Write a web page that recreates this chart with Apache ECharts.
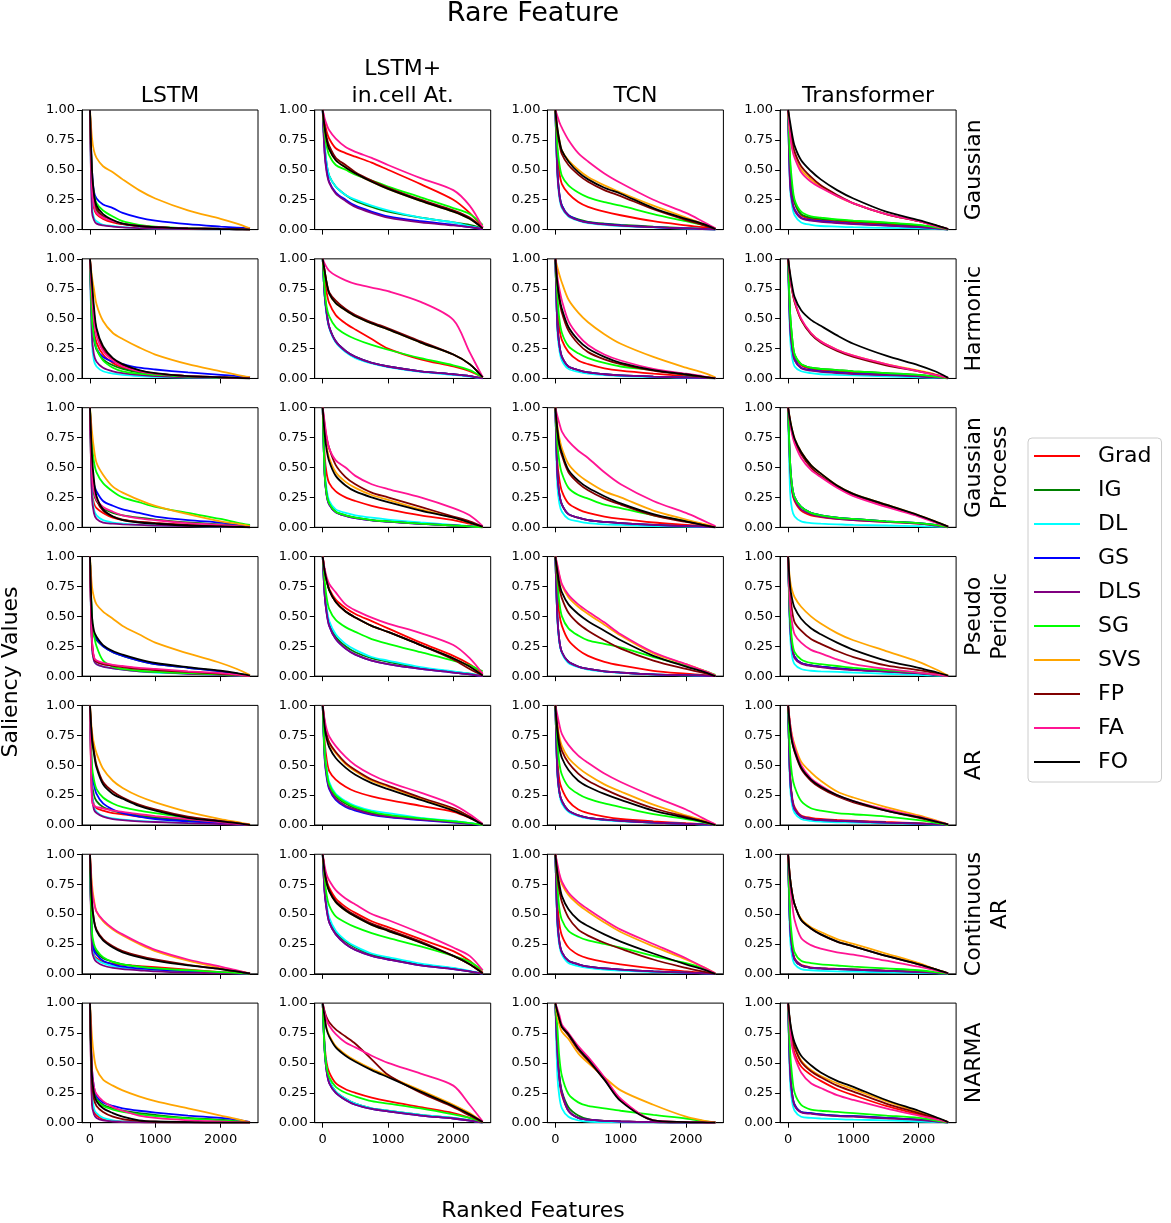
<!DOCTYPE html>
<html>
<head>
<meta charset="utf-8">
<script src="https://cdn.jsdelivr.net/npm/echarts@6/dist/echarts.min.js"></script>
<style>
html,body{margin:0;padding:0;background:#fff;}
#chart{width:1171px;height:1223px;}
</style>
</head>
<body>
<div id="chart"></div>
<script>
// ---------- data ----------
const featureRank = [0, 30, 60, 100, 200, 350, 500, 750, 1000, 1500, 2000, 2250, 2450];
const methods = ['Grad', 'IG', 'DL', 'GS', 'DLS', 'SG', 'SVS', 'FP', 'FA', 'FO'];
const modelTitles = ['LSTM', 'LSTM+\nin.cell At.', 'TCN', 'Transformer'];
const datasetTitles = ['Gaussian', 'Harmonic', 'Gaussian\nProcess', 'Pseudo\nPeriodic', 'AR', 'Continuous\nAR', 'NARMA'];
const xTickValues = [0, 1000, 2000];
const yTickValues = [0, 0.25, 0.5, 0.75, 1];

// each panel: rows in method order Grad, IG, DL, GS, DLS, SG, SVS, FP, FA, FO
const gaussian_LSTM = [
 [1,0.3,0.18,0.13,0.09,0.06,0.045,0.03,0.02,0.01,0.005,0.003,0],
 [1,0.35,0.22,0.16,0.11,0.07,0.05,0.03,0.02,0.01,0.005,0.003,0],
 [1,0.2,0.1,0.07,0.04,0.03,0.02,0.012,0.008,0.004,0.002,0.001,0],
 [1,0.5,0.32,0.26,0.21,0.18,0.14,0.1,0.075,0.045,0.025,0.017,0.01],
 [1,0.15,0.08,0.05,0.035,0.025,0.018,0.012,0.008,0.004,0.002,0.001,0],
 [1,0.45,0.3,0.22,0.16,0.11,0.07,0.04,0.025,0.012,0.006,0.003,0],
 [1,0.77,0.66,0.6,0.53,0.48,0.42,0.33,0.26,0.16,0.09,0.05,0.01],
 [1,0.45,0.28,0.18,0.11,0.07,0.045,0.03,0.02,0.01,0.005,0.003,0],
 [1,0.35,0.2,0.14,0.1,0.07,0.05,0.03,0.02,0.01,0.005,0.003,0],
 [1,0.5,0.3,0.2,0.13,0.08,0.05,0.03,0.02,0.01,0.005,0.003,0]
];
const gaussian_LSTMAtt = [
 [1,0.9,0.82,0.76,0.68,0.64,0.61,0.56,0.5,0.38,0.25,0.14,0.02],
 [1,0.7,0.55,0.45,0.36,0.29,0.24,0.19,0.15,0.1,0.06,0.04,0.01],
 [1,0.7,0.55,0.45,0.36,0.29,0.25,0.2,0.16,0.1,0.06,0.03,0.01],
 [1,0.65,0.5,0.4,0.31,0.25,0.2,0.15,0.11,0.07,0.04,0.02,0.005],
 [1,0.63,0.48,0.39,0.3,0.24,0.19,0.14,0.1,0.06,0.035,0.02,0.005],
 [1,0.8,0.7,0.62,0.54,0.5,0.46,0.41,0.36,0.27,0.18,0.13,0.04],
 [1,0.85,0.75,0.67,0.58,0.52,0.47,0.4,0.34,0.24,0.15,0.09,0.01],
 [1,0.86,0.77,0.7,0.6,0.54,0.48,0.41,0.35,0.25,0.16,0.1,0.01],
 [1,0.93,0.88,0.83,0.76,0.69,0.65,0.6,0.54,0.43,0.33,0.2,0.02],
 [1,0.85,0.75,0.67,0.58,0.52,0.47,0.4,0.34,0.24,0.15,0.09,0.01]
];
const gaussian_TCN = [
 [1,0.65,0.48,0.38,0.3,0.23,0.19,0.15,0.12,0.07,0.035,0.02,0.005],
 [1,0.5,0.3,0.2,0.12,0.085,0.065,0.05,0.04,0.025,0.012,0.006,0],
 [1,0.45,0.27,0.18,0.11,0.075,0.055,0.04,0.03,0.018,0.009,0.005,0],
 [1,0.5,0.3,0.2,0.12,0.08,0.06,0.045,0.035,0.02,0.01,0.005,0],
 [1,0.48,0.29,0.19,0.115,0.078,0.058,0.043,0.033,0.02,0.01,0.005,0],
 [1,0.7,0.55,0.45,0.37,0.31,0.27,0.23,0.2,0.13,0.07,0.04,0.01],
 [1,0.85,0.75,0.66,0.58,0.5,0.44,0.37,0.31,0.2,0.1,0.05,0.01],
 [1,0.82,0.72,0.63,0.54,0.46,0.4,0.33,0.28,0.17,0.08,0.04,0.005],
 [1,0.95,0.9,0.85,0.75,0.64,0.57,0.47,0.39,0.25,0.14,0.07,0.01],
 [1,0.85,0.75,0.66,0.57,0.48,0.42,0.35,0.3,0.18,0.09,0.05,0.005]
];
const gaussian_Transformer = [
 [1,0.5,0.32,0.22,0.12,0.09,0.08,0.07,0.06,0.045,0.03,0.015,0],
 [1,0.55,0.35,0.23,0.13,0.1,0.09,0.08,0.07,0.055,0.035,0.02,0],
 [1,0.35,0.2,0.12,0.06,0.04,0.03,0.025,0.02,0.015,0.01,0.005,0],
 [1,0.4,0.25,0.17,0.1,0.08,0.07,0.06,0.05,0.035,0.02,0.01,0],
 [1,0.38,0.24,0.16,0.095,0.075,0.065,0.055,0.047,0.033,0.02,0.01,0],
 [1,0.6,0.4,0.25,0.15,0.11,0.1,0.085,0.075,0.06,0.04,0.02,0],
 [1,0.8,0.7,0.62,0.5,0.42,0.36,0.28,0.22,0.13,0.07,0.035,0.005],
 [1,0.85,0.75,0.65,0.53,0.44,0.37,0.29,0.22,0.13,0.07,0.035,0.005],
 [1,0.8,0.68,0.6,0.48,0.4,0.35,0.28,0.22,0.13,0.07,0.03,0.005],
 [1,0.9,0.8,0.7,0.58,0.49,0.42,0.33,0.26,0.15,0.08,0.04,0.005]
];

const harmonic_LSTM = [
 [1,0.6,0.4,0.3,0.2,0.13,0.09,0.055,0.035,0.02,0.01,0.005,0],
 [1,0.5,0.33,0.24,0.16,0.11,0.08,0.05,0.035,0.02,0.01,0.005,0],
 [1,0.3,0.15,0.1,0.06,0.04,0.03,0.02,0.013,0.007,0.004,0.002,0],
 [1,0.5,0.35,0.25,0.18,0.14,0.12,0.09,0.075,0.05,0.03,0.02,0.01],
 [1,0.35,0.2,0.14,0.09,0.06,0.045,0.03,0.02,0.01,0.005,0.002,0],
 [1,0.5,0.35,0.25,0.15,0.09,0.06,0.04,0.03,0.015,0.008,0.004,0],
 [1,0.85,0.75,0.62,0.48,0.38,0.33,0.26,0.2,0.12,0.06,0.03,0.01],
 [1,0.75,0.55,0.4,0.25,0.16,0.11,0.065,0.04,0.02,0.01,0.005,0],
 [1,0.7,0.5,0.36,0.23,0.15,0.1,0.06,0.04,0.02,0.01,0.005,0],
 [1,0.8,0.6,0.42,0.27,0.17,0.12,0.07,0.045,0.02,0.01,0.005,0]
];
const harmonic_LSTMAtt = [
 [1,0.85,0.72,0.63,0.53,0.46,0.41,0.33,0.25,0.16,0.1,0.06,0.01],
 [1,0.7,0.55,0.43,0.31,0.23,0.18,0.13,0.1,0.06,0.035,0.02,0],
 [1,0.68,0.53,0.42,0.3,0.22,0.17,0.125,0.095,0.055,0.03,0.015,0],
 [1,0.7,0.55,0.43,0.31,0.23,0.18,0.13,0.1,0.06,0.035,0.02,0],
 [1,0.7,0.55,0.43,0.31,0.23,0.18,0.13,0.1,0.06,0.035,0.02,0],
 [1,0.75,0.6,0.52,0.43,0.37,0.33,0.28,0.24,0.17,0.11,0.07,0.01],
 [1,0.9,0.8,0.71,0.63,0.57,0.52,0.46,0.41,0.3,0.2,0.12,0.01],
 [1,0.9,0.8,0.72,0.65,0.58,0.53,0.47,0.42,0.31,0.2,0.12,0.01],
 [1,0.96,0.93,0.9,0.86,0.82,0.79,0.76,0.73,0.64,0.49,0.22,0.01],
 [1,0.9,0.8,0.71,0.63,0.57,0.52,0.46,0.41,0.3,0.2,0.12,0.01]
];
const harmonic_TCN = [
 [1,0.6,0.42,0.32,0.22,0.15,0.12,0.085,0.065,0.04,0.02,0.01,0],
 [1,0.45,0.28,0.18,0.1,0.07,0.05,0.035,0.025,0.015,0.008,0.004,0],
 [1,0.4,0.24,0.15,0.08,0.055,0.04,0.028,0.02,0.012,0.006,0.003,0],
 [1,0.45,0.28,0.18,0.1,0.07,0.05,0.035,0.025,0.015,0.008,0.004,0],
 [1,0.45,0.28,0.18,0.1,0.07,0.05,0.035,0.025,0.015,0.008,0.004,0],
 [1,0.7,0.5,0.38,0.27,0.21,0.17,0.13,0.1,0.07,0.03,0.015,0],
 [1,0.93,0.87,0.8,0.66,0.55,0.47,0.37,0.29,0.18,0.09,0.05,0.01],
 [1,0.8,0.66,0.55,0.4,0.29,0.22,0.16,0.12,0.065,0.03,0.015,0],
 [1,0.85,0.75,0.65,0.48,0.36,0.28,0.2,0.15,0.08,0.04,0.02,0],
 [1,0.8,0.68,0.58,0.43,0.32,0.25,0.18,0.13,0.07,0.035,0.015,0]
];
const harmonic_Transformer = [
 [1,0.5,0.3,0.18,0.11,0.08,0.07,0.06,0.05,0.04,0.025,0.012,0],
 [1,0.55,0.35,0.2,0.12,0.09,0.08,0.07,0.06,0.045,0.03,0.015,0],
 [1,0.35,0.18,0.1,0.06,0.045,0.035,0.03,0.025,0.018,0.01,0.005,0],
 [1,0.45,0.27,0.16,0.09,0.07,0.06,0.05,0.04,0.03,0.02,0.01,0],
 [1,0.43,0.26,0.15,0.085,0.065,0.055,0.045,0.037,0.028,0.018,0.009,0],
 [1,0.55,0.35,0.2,0.12,0.09,0.08,0.07,0.06,0.045,0.03,0.015,0],
 [1,0.85,0.74,0.64,0.49,0.38,0.31,0.24,0.19,0.12,0.065,0.035,0.005],
 [1,0.85,0.74,0.64,0.49,0.37,0.3,0.23,0.18,0.11,0.06,0.03,0.005],
 [1,0.85,0.75,0.65,0.5,0.38,0.31,0.24,0.19,0.12,0.06,0.03,0.005],
 [1,0.88,0.78,0.68,0.57,0.49,0.44,0.36,0.29,0.19,0.11,0.06,0.005]
];

const gp_LSTM = [
 [1,0.3,0.2,0.16,0.12,0.08,0.06,0.045,0.035,0.02,0.01,0.005,0],
 [1,0.4,0.28,0.22,0.16,0.12,0.1,0.08,0.065,0.04,0.025,0.015,0.005],
 [1,0.3,0.15,0.1,0.06,0.04,0.03,0.02,0.015,0.01,0.005,0.003,0],
 [1,0.5,0.36,0.3,0.22,0.18,0.15,0.12,0.09,0.06,0.04,0.025,0.01],
 [1,0.25,0.12,0.07,0.04,0.03,0.025,0.02,0.015,0.01,0.005,0.003,0],
 [1,0.7,0.55,0.46,0.37,0.3,0.25,0.21,0.17,0.12,0.07,0.04,0.02],
 [1,0.8,0.66,0.54,0.44,0.34,0.29,0.23,0.18,0.11,0.05,0.03,0.01],
 [1,0.5,0.33,0.23,0.14,0.09,0.065,0.045,0.035,0.02,0.01,0.005,0],
 [1,0.45,0.3,0.23,0.17,0.13,0.1,0.075,0.06,0.035,0.02,0.01,0],
 [1,0.6,0.4,0.26,0.15,0.09,0.06,0.04,0.03,0.015,0.008,0.004,0]
];
const gp_LSTMAtt = [
 [1,0.6,0.45,0.37,0.3,0.25,0.22,0.18,0.15,0.1,0.06,0.03,0.005],
 [1,0.45,0.28,0.2,0.13,0.1,0.08,0.06,0.05,0.03,0.015,0.008,0],
 [1,0.5,0.32,0.22,0.15,0.12,0.1,0.08,0.065,0.04,0.02,0.01,0],
 [1,0.44,0.27,0.19,0.125,0.095,0.077,0.058,0.048,0.029,0.015,0.008,0],
 [1,0.44,0.27,0.19,0.125,0.095,0.077,0.058,0.048,0.029,0.015,0.008,0],
 [1,0.45,0.28,0.2,0.13,0.1,0.08,0.06,0.05,0.03,0.015,0.008,0],
 [1,0.8,0.68,0.58,0.46,0.38,0.33,0.27,0.23,0.15,0.08,0.04,0.005],
 [1,0.85,0.75,0.66,0.52,0.42,0.36,0.29,0.25,0.17,0.09,0.05,0.005],
 [1,0.88,0.76,0.66,0.56,0.5,0.43,0.36,0.32,0.25,0.16,0.1,0.01],
 [1,0.78,0.65,0.55,0.43,0.35,0.3,0.25,0.21,0.14,0.08,0.04,0.005]
];
const gp_TCN = [
 [1,0.55,0.4,0.3,0.2,0.15,0.12,0.09,0.07,0.04,0.02,0.01,0],
 [1,0.45,0.28,0.19,0.11,0.08,0.06,0.045,0.035,0.02,0.01,0.005,0],
 [1,0.35,0.2,0.13,0.07,0.05,0.035,0.025,0.02,0.01,0.005,0.002,0],
 [1,0.45,0.28,0.19,0.11,0.08,0.06,0.045,0.035,0.02,0.01,0.005,0],
 [1,0.45,0.28,0.19,0.11,0.08,0.06,0.045,0.035,0.02,0.01,0.005,0],
 [1,0.7,0.55,0.45,0.33,0.27,0.24,0.19,0.16,0.1,0.05,0.025,0],
 [1,0.85,0.75,0.66,0.53,0.44,0.38,0.3,0.25,0.14,0.065,0.03,0.005],
 [1,0.8,0.68,0.6,0.46,0.37,0.31,0.24,0.19,0.1,0.045,0.02,0],
 [1,0.93,0.87,0.8,0.72,0.64,0.58,0.46,0.36,0.22,0.12,0.06,0.01],
 [1,0.82,0.7,0.62,0.48,0.39,0.33,0.26,0.2,0.11,0.05,0.02,0]
];
const gp_Transformer = [
 [1,0.5,0.3,0.22,0.14,0.1,0.085,0.07,0.06,0.045,0.03,0.015,0],
 [1,0.55,0.35,0.25,0.17,0.12,0.1,0.08,0.07,0.05,0.035,0.02,0],
 [1,0.3,0.15,0.09,0.05,0.035,0.03,0.025,0.02,0.015,0.01,0.005,0],
 [1,0.55,0.35,0.25,0.17,0.12,0.1,0.08,0.07,0.05,0.035,0.02,0],
 [1,0.5,0.32,0.23,0.15,0.11,0.09,0.07,0.06,0.045,0.03,0.015,0],
 [1,0.55,0.35,0.25,0.17,0.12,0.1,0.08,0.07,0.05,0.035,0.02,0],
 [1,0.9,0.82,0.74,0.63,0.52,0.45,0.35,0.28,0.19,0.1,0.05,0.005],
 [1,0.88,0.8,0.72,0.61,0.5,0.43,0.34,0.27,0.18,0.095,0.045,0.005],
 [1,0.88,0.78,0.7,0.58,0.48,0.42,0.33,0.26,0.17,0.09,0.04,0.005],
 [1,0.9,0.82,0.74,0.63,0.52,0.45,0.35,0.28,0.19,0.1,0.05,0.005]
];

const pseudo_LSTM = [
 [1,0.3,0.15,0.12,0.1,0.09,0.08,0.065,0.055,0.035,0.02,0.01,0],
 [1,0.45,0.34,0.3,0.25,0.2,0.17,0.13,0.1,0.07,0.04,0.02,0.005],
 [1,0.25,0.13,0.1,0.08,0.065,0.055,0.04,0.03,0.02,0.01,0.005,0],
 [1,0.45,0.35,0.31,0.25,0.2,0.17,0.13,0.1,0.07,0.04,0.02,0.005],
 [1,0.25,0.13,0.1,0.08,0.065,0.055,0.04,0.035,0.02,0.01,0.005,0],
 [1,0.5,0.35,0.25,0.13,0.08,0.06,0.045,0.035,0.025,0.015,0.008,0],
 [1,0.75,0.66,0.6,0.54,0.48,0.42,0.35,0.28,0.19,0.11,0.06,0.01],
 [1,0.3,0.15,0.12,0.1,0.085,0.075,0.06,0.05,0.035,0.02,0.01,0],
 [1,0.3,0.16,0.13,0.11,0.095,0.085,0.07,0.06,0.04,0.025,0.012,0],
 [1,0.5,0.38,0.33,0.26,0.21,0.18,0.14,0.11,0.075,0.045,0.025,0.005]
];
const pseudo_LSTMAtt = [
 [1,0.88,0.8,0.73,0.64,0.57,0.52,0.46,0.4,0.28,0.17,0.1,0.02],
 [1,0.7,0.55,0.44,0.33,0.25,0.2,0.15,0.12,0.07,0.035,0.02,0],
 [1,0.72,0.57,0.46,0.35,0.27,0.22,0.16,0.13,0.075,0.04,0.02,0],
 [1,0.68,0.53,0.42,0.31,0.23,0.18,0.13,0.1,0.06,0.03,0.015,0],
 [1,0.68,0.53,0.42,0.31,0.23,0.18,0.13,0.1,0.06,0.03,0.015,0],
 [1,0.8,0.66,0.56,0.47,0.41,0.37,0.31,0.27,0.2,0.13,0.09,0.04],
 [1,0.88,0.8,0.72,0.62,0.54,0.49,0.42,0.37,0.26,0.15,0.08,0.005],
 [1,0.88,0.8,0.72,0.62,0.54,0.49,0.42,0.37,0.26,0.14,0.06,0.005],
 [1,0.9,0.83,0.77,0.7,0.6,0.55,0.49,0.44,0.36,0.26,0.15,0.02],
 [1,0.88,0.8,0.72,0.62,0.54,0.49,0.42,0.37,0.26,0.15,0.08,0.005]
];
const pseudo_TCN = [
 [1,0.7,0.52,0.42,0.3,0.22,0.17,0.12,0.09,0.045,0.02,0.01,0],
 [1,0.5,0.3,0.2,0.12,0.08,0.06,0.04,0.03,0.015,0.008,0.004,0],
 [1,0.48,0.28,0.19,0.11,0.075,0.055,0.038,0.028,0.014,0.007,0.003,0],
 [1,0.5,0.3,0.2,0.12,0.08,0.06,0.04,0.03,0.015,0.008,0.004,0],
 [1,0.5,0.3,0.2,0.12,0.08,0.06,0.04,0.03,0.015,0.008,0.004,0],
 [1,0.8,0.62,0.5,0.4,0.34,0.3,0.27,0.24,0.16,0.09,0.05,0.01],
 [1,0.92,0.84,0.76,0.66,0.58,0.52,0.43,0.34,0.19,0.1,0.05,0.005],
 [1,0.85,0.74,0.65,0.53,0.44,0.38,0.3,0.23,0.13,0.06,0.03,0],
 [1,0.93,0.85,0.77,0.68,0.6,0.54,0.45,0.35,0.2,0.1,0.05,0.005],
 [1,0.88,0.78,0.7,0.6,0.52,0.46,0.38,0.3,0.17,0.08,0.04,0]
];
const pseudo_Transformer = [
 [1,0.45,0.25,0.16,0.11,0.09,0.08,0.065,0.055,0.04,0.025,0.012,0],
 [1,0.45,0.25,0.16,0.11,0.09,0.08,0.065,0.055,0.04,0.025,0.012,0],
 [1,0.35,0.17,0.1,0.06,0.045,0.04,0.035,0.03,0.02,0.01,0.005,0],
 [1,0.45,0.25,0.16,0.11,0.09,0.08,0.065,0.055,0.04,0.025,0.012,0],
 [1,0.43,0.24,0.15,0.105,0.085,0.075,0.06,0.05,0.037,0.023,0.011,0],
 [1,0.5,0.3,0.2,0.14,0.11,0.1,0.085,0.07,0.05,0.03,0.015,0],
 [1,0.8,0.72,0.66,0.58,0.5,0.44,0.36,0.3,0.21,0.12,0.06,0.005],
 [1,0.7,0.55,0.45,0.38,0.31,0.27,0.21,0.16,0.09,0.05,0.025,0],
 [1,0.6,0.45,0.35,0.28,0.22,0.19,0.14,0.1,0.06,0.03,0.015,0],
 [1,0.75,0.65,0.57,0.48,0.4,0.35,0.28,0.22,0.13,0.07,0.035,0.005]
];

const ar_LSTM = [
 [1,0.25,0.17,0.14,0.12,0.1,0.09,0.07,0.06,0.04,0.02,0.01,0],
 [1,0.35,0.25,0.2,0.15,0.12,0.1,0.08,0.06,0.04,0.02,0.01,0],
 [1,0.3,0.15,0.11,0.075,0.055,0.045,0.035,0.028,0.018,0.01,0.005,0],
 [1,0.45,0.34,0.26,0.18,0.13,0.1,0.07,0.05,0.03,0.015,0.008,0],
 [1,0.25,0.13,0.1,0.07,0.05,0.04,0.03,0.025,0.015,0.008,0.004,0],
 [1,0.5,0.38,0.3,0.23,0.18,0.15,0.12,0.1,0.06,0.03,0.015,0],
 [1,0.78,0.68,0.6,0.47,0.37,0.31,0.24,0.19,0.11,0.05,0.025,0.005],
 [1,0.73,0.62,0.5,0.36,0.28,0.23,0.17,0.13,0.07,0.035,0.015,0],
 [1,0.2,0.16,0.15,0.14,0.12,0.11,0.09,0.075,0.05,0.025,0.012,0],
 [1,0.72,0.6,0.48,0.34,0.26,0.22,0.16,0.12,0.06,0.03,0.015,0]
];
const ar_LSTMAtt = [
 [1,0.7,0.55,0.45,0.38,0.32,0.28,0.24,0.21,0.16,0.11,0.06,0.005],
 [1,0.6,0.45,0.33,0.24,0.18,0.14,0.1,0.08,0.05,0.03,0.015,0],
 [1,0.62,0.47,0.36,0.26,0.2,0.16,0.12,0.1,0.06,0.035,0.017,0],
 [1,0.55,0.4,0.3,0.21,0.15,0.12,0.085,0.065,0.04,0.02,0.01,0],
 [1,0.57,0.42,0.31,0.22,0.16,0.13,0.09,0.07,0.045,0.025,0.012,0],
 [1,0.6,0.45,0.34,0.25,0.19,0.15,0.11,0.085,0.055,0.03,0.015,0],
 [1,0.85,0.75,0.68,0.6,0.51,0.45,0.37,0.32,0.22,0.13,0.07,0.005],
 [1,0.86,0.76,0.69,0.61,0.52,0.46,0.38,0.33,0.23,0.14,0.07,0.005],
 [1,0.88,0.8,0.74,0.66,0.57,0.5,0.42,0.36,0.27,0.17,0.09,0.01],
 [1,0.82,0.72,0.65,0.56,0.48,0.42,0.35,0.3,0.21,0.12,0.06,0.005]
];
const ar_TCN = [
 [1,0.55,0.38,0.3,0.2,0.13,0.1,0.07,0.05,0.03,0.015,0.008,0],
 [1,0.45,0.28,0.2,0.12,0.08,0.06,0.045,0.035,0.02,0.01,0.005,0],
 [1,0.42,0.26,0.18,0.11,0.075,0.055,0.04,0.03,0.018,0.009,0.004,0],
 [1,0.45,0.28,0.2,0.12,0.08,0.06,0.045,0.035,0.02,0.01,0.005,0],
 [1,0.45,0.28,0.2,0.12,0.08,0.06,0.045,0.035,0.02,0.01,0.005,0],
 [1,0.7,0.52,0.42,0.32,0.26,0.22,0.18,0.15,0.09,0.05,0.025,0],
 [1,0.85,0.74,0.66,0.56,0.48,0.42,0.34,0.28,0.17,0.08,0.04,0.005],
 [1,0.82,0.7,0.62,0.52,0.43,0.37,0.3,0.24,0.14,0.07,0.03,0],
 [1,0.92,0.84,0.76,0.67,0.58,0.52,0.43,0.36,0.24,0.13,0.06,0.005],
 [1,0.78,0.65,0.56,0.46,0.37,0.32,0.26,0.21,0.12,0.06,0.03,0]
];
const ar_Transformer = [
 [1,0.42,0.24,0.15,0.08,0.06,0.05,0.042,0.036,0.025,0.015,0.008,0],
 [1,0.4,0.22,0.13,0.07,0.05,0.04,0.035,0.03,0.02,0.012,0.006,0],
 [1,0.33,0.17,0.1,0.05,0.035,0.028,0.023,0.02,0.014,0.008,0.004,0],
 [1,0.4,0.22,0.13,0.07,0.05,0.04,0.035,0.03,0.02,0.012,0.006,0],
 [1,0.4,0.22,0.13,0.07,0.05,0.04,0.035,0.03,0.02,0.012,0.006,0],
 [1,0.6,0.42,0.32,0.2,0.14,0.12,0.1,0.09,0.07,0.04,0.02,0],
 [1,0.85,0.75,0.67,0.53,0.44,0.37,0.28,0.23,0.15,0.08,0.04,0.005],
 [1,0.82,0.7,0.61,0.47,0.37,0.31,0.24,0.19,0.12,0.06,0.03,0.005],
 [1,0.85,0.74,0.65,0.5,0.39,0.33,0.25,0.2,0.13,0.07,0.035,0.005],
 [1,0.82,0.7,0.62,0.48,0.38,0.32,0.25,0.2,0.12,0.065,0.03,0.005]
];

const car_LSTM = [
 [1,0.25,0.16,0.13,0.1,0.085,0.075,0.065,0.055,0.035,0.015,0.008,0],
 [1,0.3,0.22,0.18,0.13,0.1,0.08,0.06,0.045,0.025,0.012,0.006,0],
 [1,0.25,0.15,0.12,0.09,0.065,0.05,0.035,0.025,0.015,0.008,0.004,0],
 [1,0.3,0.2,0.16,0.11,0.08,0.06,0.045,0.035,0.02,0.01,0.005,0],
 [1,0.2,0.13,0.1,0.07,0.05,0.04,0.03,0.02,0.01,0.005,0.002,0],
 [1,0.35,0.25,0.2,0.14,0.1,0.08,0.06,0.045,0.03,0.015,0.008,0],
 [1,0.75,0.62,0.52,0.44,0.37,0.32,0.25,0.19,0.11,0.05,0.025,0.003],
 [1,0.6,0.45,0.37,0.29,0.23,0.19,0.15,0.12,0.075,0.04,0.02,0.003],
 [1,0.7,0.6,0.52,0.45,0.38,0.33,0.26,0.2,0.12,0.06,0.03,0.003],
 [1,0.6,0.45,0.36,0.28,0.22,0.18,0.14,0.11,0.07,0.04,0.02,0.003]
];
const car_LSTMAtt = [
 [1,0.87,0.78,0.72,0.63,0.56,0.51,0.44,0.39,0.29,0.19,0.11,0.01],
 [1,0.7,0.56,0.45,0.35,0.27,0.22,0.16,0.13,0.08,0.045,0.02,0],
 [1,0.72,0.58,0.47,0.36,0.28,0.23,0.17,0.14,0.085,0.05,0.025,0],
 [1,0.68,0.54,0.43,0.33,0.25,0.2,0.15,0.12,0.07,0.04,0.02,0],
 [1,0.68,0.54,0.43,0.33,0.25,0.2,0.15,0.12,0.07,0.04,0.02,0],
 [1,0.8,0.66,0.57,0.48,0.43,0.39,0.34,0.3,0.23,0.15,0.1,0.03],
 [1,0.85,0.76,0.69,0.6,0.53,0.48,0.41,0.36,0.26,0.15,0.08,0.005],
 [1,0.86,0.77,0.7,0.61,0.54,0.49,0.42,0.37,0.27,0.15,0.08,0.005],
 [1,0.9,0.83,0.78,0.7,0.63,0.58,0.5,0.45,0.34,0.22,0.15,0.03],
 [1,0.85,0.76,0.69,0.6,0.53,0.48,0.41,0.36,0.26,0.15,0.08,0.005]
];
const car_TCN = [
 [1,0.6,0.42,0.32,0.22,0.16,0.13,0.1,0.08,0.045,0.02,0.01,0],
 [1,0.45,0.27,0.18,0.11,0.08,0.06,0.045,0.035,0.02,0.01,0.005,0],
 [1,0.4,0.24,0.16,0.09,0.065,0.05,0.035,0.027,0.015,0.008,0.004,0],
 [1,0.45,0.27,0.18,0.11,0.08,0.06,0.045,0.035,0.02,0.01,0.005,0],
 [1,0.45,0.27,0.18,0.11,0.08,0.06,0.045,0.035,0.02,0.01,0.005,0],
 [1,0.75,0.55,0.45,0.36,0.31,0.28,0.25,0.22,0.15,0.09,0.05,0],
 [1,0.9,0.82,0.75,0.66,0.58,0.52,0.43,0.35,0.23,0.12,0.06,0.005],
 [1,0.82,0.7,0.6,0.47,0.37,0.32,0.26,0.21,0.12,0.05,0.02,0],
 [1,0.92,0.84,0.77,0.68,0.6,0.54,0.45,0.37,0.25,0.13,0.06,0.005],
 [1,0.85,0.75,0.65,0.54,0.45,0.4,0.33,0.27,0.17,0.08,0.04,0]
];
const car_Transformer = [
 [1,0.42,0.23,0.13,0.075,0.055,0.048,0.042,0.037,0.027,0.016,0.008,0],
 [1,0.4,0.22,0.12,0.07,0.05,0.045,0.04,0.035,0.025,0.015,0.008,0],
 [1,0.3,0.15,0.08,0.04,0.03,0.025,0.02,0.018,0.013,0.008,0.004,0],
 [1,0.4,0.22,0.12,0.07,0.05,0.045,0.04,0.035,0.025,0.015,0.008,0],
 [1,0.4,0.22,0.12,0.07,0.05,0.045,0.04,0.035,0.025,0.015,0.008,0],
 [1,0.5,0.3,0.18,0.11,0.09,0.08,0.07,0.06,0.045,0.03,0.015,0],
 [1,0.8,0.68,0.58,0.46,0.39,0.35,0.29,0.25,0.17,0.09,0.04,0.005],
 [1,0.8,0.68,0.58,0.45,0.38,0.33,0.27,0.23,0.15,0.08,0.04,0.005],
 [1,0.75,0.6,0.45,0.3,0.24,0.21,0.18,0.16,0.11,0.06,0.03,0.005],
 [1,0.8,0.68,0.58,0.45,0.38,0.33,0.27,0.23,0.15,0.08,0.04,0.005]
];

const narma_LSTM = [
 [1,0.2,0.1,0.06,0.03,0.015,0.01,0.005,0.003,0,0,0,0],
 [1,0.4,0.27,0.2,0.15,0.12,0.1,0.08,0.065,0.04,0.025,0.012,0],
 [1,0.25,0.12,0.08,0.04,0.02,0.01,0.005,0.003,0,0,0,0],
 [1,0.45,0.3,0.22,0.17,0.14,0.12,0.1,0.085,0.06,0.04,0.025,0.005],
 [1,0.15,0.07,0.04,0.02,0.01,0.005,0.003,0,0,0,0,0],
 [1,0.38,0.25,0.19,0.14,0.11,0.09,0.07,0.055,0.035,0.02,0.01,0],
 [1,0.72,0.56,0.45,0.36,0.31,0.27,0.22,0.18,0.12,0.06,0.03,0.003],
 [1,0.35,0.2,0.14,0.09,0.05,0.03,0.015,0.008,0.003,0,0,0],
 [1,0.45,0.3,0.24,0.18,0.13,0.1,0.06,0.04,0.02,0.01,0.005,0],
 [1,0.4,0.25,0.18,0.12,0.08,0.05,0.02,0.01,0.005,0,0,0]
];
const narma_LSTMAtt = [
 [1,0.65,0.5,0.42,0.33,0.28,0.25,0.21,0.18,0.13,0.08,0.04,0.005],
 [1,0.62,0.45,0.35,0.26,0.2,0.16,0.12,0.1,0.065,0.04,0.02,0],
 [1,0.62,0.45,0.35,0.26,0.2,0.16,0.12,0.1,0.065,0.04,0.02,0],
 [1,0.6,0.43,0.33,0.25,0.19,0.15,0.115,0.095,0.06,0.035,0.018,0],
 [1,0.6,0.43,0.33,0.25,0.19,0.15,0.115,0.095,0.06,0.035,0.018,0],
 [1,0.6,0.46,0.38,0.3,0.25,0.22,0.18,0.16,0.12,0.07,0.04,0.005],
 [1,0.88,0.79,0.73,0.64,0.57,0.52,0.45,0.39,0.27,0.15,0.08,0.005],
 [1,0.93,0.88,0.84,0.78,0.72,0.66,0.53,0.4,0.25,0.13,0.06,0.005],
 [1,0.92,0.86,0.81,0.74,0.67,0.63,0.56,0.5,0.41,0.31,0.15,0.01],
 [1,0.88,0.78,0.72,0.63,0.56,0.51,0.44,0.38,0.26,0.14,0.07,0.005]
];
const narma_TCN = [
 [1,0.55,0.35,0.23,0.1,0.04,0.025,0.015,0.01,0.005,0,0,0],
 [1,0.6,0.4,0.26,0.13,0.06,0.03,0.015,0.01,0.005,0,0,0],
 [1,0.4,0.22,0.12,0.05,0.02,0.01,0.005,0.003,0,0,0,0],
 [1,0.6,0.38,0.25,0.1,0.04,0.025,0.015,0.01,0.005,0,0,0],
 [1,0.6,0.38,0.25,0.1,0.04,0.025,0.015,0.01,0.005,0,0,0],
 [1,0.8,0.55,0.39,0.24,0.17,0.14,0.12,0.1,0.065,0.035,0.015,0],
 [1,0.9,0.82,0.76,0.7,0.58,0.5,0.38,0.27,0.15,0.05,0.02,0.003],
 [1,0.93,0.87,0.8,0.73,0.61,0.52,0.36,0.19,0.02,0.005,0.002,0],
 [1,0.95,0.9,0.82,0.75,0.64,0.55,0.38,0.2,0.02,0.005,0.002,0],
 [1,0.93,0.87,0.8,0.74,0.62,0.53,0.36,0.18,0.02,0.005,0.002,0]
];
const narma_Transformer = [
 [1,0.8,0.68,0.58,0.47,0.4,0.35,0.28,0.23,0.14,0.07,0.035,0.005],
 [1,0.45,0.25,0.15,0.09,0.08,0.07,0.06,0.055,0.04,0.025,0.012,0],
 [1,0.35,0.18,0.1,0.05,0.04,0.035,0.03,0.025,0.02,0.01,0.005,0],
 [1,0.45,0.25,0.15,0.09,0.08,0.07,0.06,0.055,0.04,0.025,0.012,0],
 [1,0.43,0.24,0.14,0.085,0.075,0.065,0.055,0.05,0.037,0.023,0.011,0],
 [1,0.6,0.4,0.25,0.15,0.11,0.1,0.09,0.08,0.06,0.04,0.02,0],
 [1,0.83,0.72,0.64,0.52,0.44,0.39,0.33,0.28,0.18,0.09,0.045,0.005],
 [1,0.83,0.72,0.63,0.51,0.43,0.38,0.31,0.26,0.16,0.08,0.04,0.005],
 [1,0.78,0.64,0.55,0.42,0.33,0.29,0.23,0.19,0.12,0.06,0.03,0.005],
 [1,0.85,0.75,0.67,0.56,0.48,0.42,0.35,0.3,0.19,0.1,0.05,0.005]
];

const panels = [
 [gaussian_LSTM, gaussian_LSTMAtt, gaussian_TCN, gaussian_Transformer],
 [harmonic_LSTM, harmonic_LSTMAtt, harmonic_TCN, harmonic_Transformer],
 [gp_LSTM, gp_LSTMAtt, gp_TCN, gp_Transformer],
 [pseudo_LSTM, pseudo_LSTMAtt, pseudo_TCN, pseudo_Transformer],
 [ar_LSTM, ar_LSTMAtt, ar_TCN, ar_Transformer],
 [car_LSTM, car_LSTMAtt, car_TCN, car_Transformer],
 [narma_LSTM, narma_LSTMAtt, narma_TCN, narma_Transformer]
];

// ---------- styles & layout ----------
const methodColors = ['#ff0000', '#008000', '#00ffff', '#0000ff', '#800080', '#00ff00', '#ffa500', '#800000', '#ff1493', '#000000'];
const FONT = 'DejaVu Sans';
const colLeft = [82, 314.7, 547.4, 780.1];
const panelW = 176;
const rowTop0 = 110, rowStep = 148.85, panelH = 119.6;

const grids = [], xAxes = [], yAxes = [], series = [], graphics = [];
let idx = 0;
for (let r = 0; r < panels.length; r++) {
  for (let c = 0; c < 4; c++) {
    const top = rowTop0 + r * rowStep;
    grids.push({left: colLeft[c], top: top, width: panelW, height: panelH,
      show: true, borderColor: '#000', borderWidth: 1, backgroundColor: 'transparent'});
    xAxes.push({type: 'value', gridIndex: idx, min: -122.5, max: 2572.5,
      axisLine: {show: true, onZero: false, lineStyle: {color: '#000', width: 1}},
      axisTick: {show: true, length: 5, inside: false, customValues: xTickValues, lineStyle: {color: '#000'}},
      axisLabel: {show: r === panels.length - 1, customValues: xTickValues, margin: 10,
        color: '#000', fontSize: 13, fontFamily: FONT, formatter: v => String(v)},
      splitLine: {show: false}});
    yAxes.push({type: 'value', gridIndex: idx, min: 0, max: 1, interval: 0.25,
      axisLine: {show: true, onZero: false, lineStyle: {color: '#000', width: 1}},
      axisTick: {show: true, length: 5, inside: false, lineStyle: {color: '#000'}},
      axisLabel: {show: true, margin: 7, color: '#000', fontSize: 13, fontFamily: FONT,
        formatter: v => v.toFixed(2)},
      splitLine: {show: false}});
    const block = panels[r][c];
    for (let m = 0; m < methods.length; m++) {
      series.push({
        name: methods[m], type: 'line', xAxisIndex: idx, yAxisIndex: idx,
        data: featureRank.map((x, k) => [x, block[m][k]]),
        symbol: 'none', smooth: 0.3, clip: true,
        lineStyle: {color: methodColors[m], width: 1.8},
        itemStyle: {color: methodColors[m]},
        emphasis: {disabled: true}, silent: true
      });
    }
    idx++;
  }
}

// column titles
for (let c = 0; c < 4; c++) {
  graphics.push({type: 'text', x: colLeft[c] + panelW / 2, y: 110,
    style: {text: modelTitles[c], fontSize: 22, fontFamily: FONT, fill: '#000',
      align: 'center', verticalAlign: 'bottom', lineHeight: 27}});
}
// row titles (rotated)
for (let r = 0; r < datasetTitles.length; r++) {
  graphics.push({type: 'text', x: 961, y: rowTop0 + r * rowStep + panelH / 2, rotation: Math.PI / 2,
    style: {text: datasetTitles[r], fontSize: 22, fontFamily: FONT, fill: '#000',
      align: 'center', verticalAlign: 'top', lineHeight: 26}});
}
graphics.push({type: 'text', x: 533, y: 14,
  style: {text: 'Rare Feature', fontSize: 27, fontFamily: FONT, fill: '#000', align: 'center', verticalAlign: 'middle'}});
graphics.push({type: 'text', x: 533, y: 1211,
  style: {text: 'Ranked Features', fontSize: 22, fontFamily: FONT, fill: '#000', align: 'center', verticalAlign: 'middle'}});
graphics.push({type: 'text', x: 11, y: 672, rotation: Math.PI / 2,
  style: {text: 'Saliency Values', fontSize: 22, fontFamily: FONT, fill: '#000', align: 'center', verticalAlign: 'middle'}});

const chart = echarts.init(document.getElementById('chart'), null, {renderer: 'canvas'});
chart.setOption({
  animation: false,
  backgroundColor: '#fff',
  grid: grids,
  xAxis: xAxes,
  yAxis: yAxes,
  series: series,
  graphic: graphics,
  legend: {
    data: methods.map((n, i) => ({name: n, itemStyle: {color: methodColors[i]}})),
    orient: 'vertical', left: 1028, top: 438,
    icon: 'rect', itemWidth: 46, itemHeight: 2, itemGap: 12,
    padding: [7, 10, 9, 6],
    borderColor: '#cccccc', borderWidth: 1, borderRadius: 4,
    selectedMode: false,
    textStyle: {fontSize: 22, fontFamily: FONT, color: '#000', lineHeight: 22, padding: [0, 0, 0, 13]}
  }
});
</script>
</body>
</html>
